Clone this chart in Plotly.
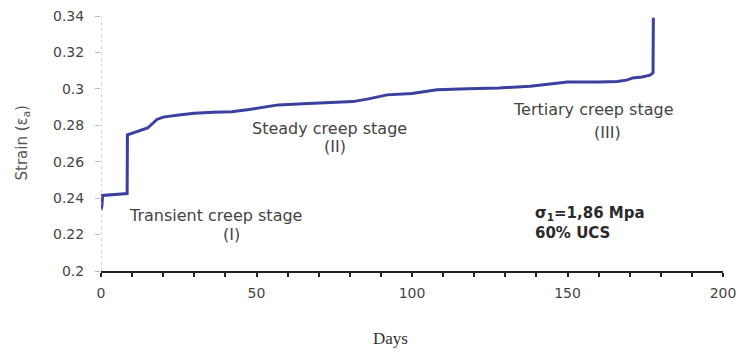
import plotly.graph_objects as go

days = [0, 0.3, 0.5, 3, 6, 8.4, 8.5, 12, 14, 15, 18, 20, 25, 30, 36, 42, 47, 52, 57, 65, 77, 81, 86, 92, 100, 108, 118, 128, 138, 148, 150, 160, 166, 169, 171, 174, 176.5, 177.5, 177.6]
strain = [0.2335, 0.236, 0.2415, 0.2418, 0.2422, 0.2425, 0.2748, 0.2768, 0.278, 0.2785, 0.2832, 0.2845, 0.2857, 0.2866, 0.2872, 0.2875, 0.2885, 0.290, 0.2912, 0.2918, 0.2929, 0.293, 0.2945, 0.2967, 0.2975, 0.2995, 0.3, 0.3005, 0.3015, 0.303, 0.3037, 0.3037, 0.304, 0.3048, 0.306, 0.3065, 0.3075, 0.3088, 0.339]

x_ticks = [0, 50, 100, 150, 200]
y_ticks = [0.2, 0.22, 0.24, 0.26, 0.28, 0.3, 0.32, 0.34]
y_labels = ["0.2", "0.22", "0.24", "0.26", "0.28", "0.3", "0.32", "0.34"]

SANS = "DejaVu Sans, Verdana, Arial"

fig = go.Figure()
fig.add_trace(go.Scatter(x=days, y=strain, mode="lines",
                         line=dict(color="#3b3f9e", width=3), showlegend=False))

fig.add_shape(type="line", xref="x", yref="y", x0=0, x1=0, y0=0.2, y1=0.34,
              line=dict(color="#b5b5b5", width=1, dash="dot"))

txt = dict(family=SANS, size=16, color="#444")
anns = [
    ("Transient creep stage", 36.7, 0.2307),
    ("(I)", 42.1, 0.2198),
    ("Steady creep stage", 73.6, 0.2785),
    ("(II)", 75.2, 0.2681),
    ("Tertiary creep stage", 158.2, 0.2884),
    ("(III)", 163, 0.2763),
]
for t, x, y in anns:
    fig.add_annotation(x=x, y=y, xref="x", yref="y", text=t, showarrow=False, font=txt)
bold = dict(family=SANS, size=15, color="#2a2a2a")
fig.add_annotation(x=138.9, y=0.2318, xref="x", yref="y", xanchor="left", showarrow=False,
                   text="<b>σ<sub>1</sub>=1,86 Mpa</b>", font=bold)
fig.add_annotation(x=138.9, y=0.2209, xref="x", yref="y", xanchor="left", showarrow=False,
                   text="<b>60% UCS</b>", font=bold)

# axis titles
fig.add_annotation(x=-0.127, y=0.5, xref="paper", yref="paper", xanchor="center", yanchor="middle",
                   textangle=-90, showarrow=False,
                   text="Strain (ε<sub>a</sub>)", font=dict(family=SANS, size=15, color="#555"))
fig.add_annotation(x=0.466, y=-0.263, xref="paper", yref="paper", xanchor="center", yanchor="middle",
                   showarrow=False,
                   text="Days", font=dict(family="Times New Roman, Liberation Serif, serif", size=17, color="#333"))

fig.update_layout(
    width=742, height=353,
    margin=dict(l=101, r=19, t=16, b=82),
    plot_bgcolor="white", paper_bgcolor="white",
    xaxis=dict(range=[0, 200], tickvals=x_ticks, ticktext=[str(v) for v in x_ticks],
               showgrid=False, zeroline=False, showline=True, linecolor="#222", linewidth=2,
               ticks="outside", ticklen=4, tickcolor="#222", tickwidth=2,
               minor=dict(dtick=10, ticks="outside", ticklen=4, tickcolor="#222", tickwidth=2),
               tickfont=dict(family=SANS, size=14, color="#444"), automargin=False,
               ticklabelstandoff=4),
    yaxis=dict(range=[0.2, 0.34], tickvals=y_ticks, ticktext=y_labels,
               showgrid=False, zeroline=False, showline=False,
               ticks="outside", ticklen=5, tickcolor="#bbb", tickwidth=1, automargin=False,
               tickfont=dict(family=SANS, size=14, color="#444"), ticklabelstandoff=8),
)

fig.write_html("out.html", config={"displayModeBar": False},
               post_script="document.body.style.margin='0';document.body.style.overflow='hidden';")
